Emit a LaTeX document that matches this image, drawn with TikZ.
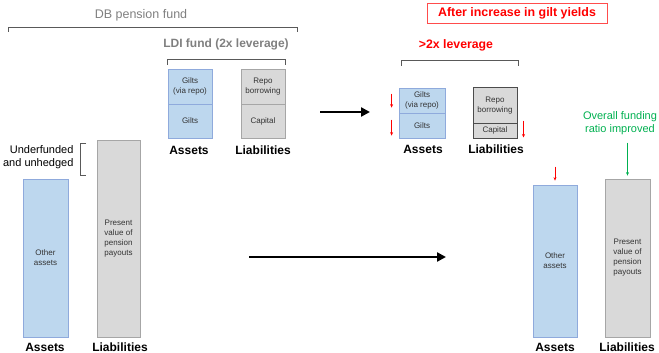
\documentclass[tikz,border=0pt]{standalone}
\usepackage{fontspec}
\setmainfont{Liberation Sans}
\usetikzlibrary{arrows.meta}

\definecolor{assetblue}{HTML}{BDD7EE}
\definecolor{assetedge}{HTML}{8FAADC}
\definecolor{liabgray}{HTML}{D9D9D9}
\definecolor{liabedge}{HTML}{A6A6A6}
\definecolor{titlegray}{HTML}{7F7F7F}
\definecolor{bracegray}{HTML}{595959}
\definecolor{upred}{HTML}{FF0000}
\definecolor{upgreen}{HTML}{00B050}

\tikzset{
	ablock/.style={draw=assetedge, fill=assetblue, line width=0.8pt, inner sep=0pt, align=center,
		font=\fontsize{8}{10}\selectfont, text=black!80},
	lblock/.style={ablock, draw=liabedge, fill=liabgray},
	colname/.style={font=\fontsize{12}{14}\selectfont\bfseries},
	brace/.style={draw=bracegray, line width=0.7pt},
	bigarrow/.style={line width=2.6pt, -{Triangle[length=9pt,width=9pt]}},
	tinyarrow/.style={upred, line width=0.6pt, -{Stealth[length=3.5pt,width=3pt]}}
}

\begin{document}
\begin{tikzpicture}[x=1pt,y=-1pt]

\useasboundingbox (0,0) rectangle (659,353);

\begin{scope}

\node[font=\fontsize{12.5}{14}\selectfont, text=titlegray] (dbname) at (141,15) {DB pension fund};
\draw[brace] (8,32)--(8,27)--(297,27)--(297,32);

\node[font=\fontsize{12}{14}\selectfont\bfseries, text=titlegray] (ldiname) at (226,44) {LDI fund (2x leverage)};
\draw[brace] (167,65)--(167,59)--(285,59)--(285,65);

\node[ablock, minimum width=44, minimum height=35] (gvr1) at (190,86.5) {Gilts\\(via repo)};
\node[ablock, minimum width=44, minimum height=34] (gil1) at (190,121) {Gilts};
\node[lblock, minimum width=44, minimum height=35] (rep1) at (263,86.5) {Repo\\borrowing};
\node[lblock, minimum width=44, minimum height=34] (cap1) at (263,121) {Capital};
\node[colname] (lass1) at (189,150) {Assets};
\node[colname] (lliab1) at (263,150) {Liabilities};

\node[font=\fontsize{11}{13}\selectfont, align=right, anchor=east] (gap1) at (77,157) {Underfunded\\and unhedged};
\draw[brace] (86,143)--(80,143)--(80,175)--(86,175);

\node[ablock, minimum width=45, minimum height=158] (oth1) at (45.5,258) {Other\\assets};
\node[lblock, minimum width=43, minimum height=197] (pv1) at (118.5,238.5) {Present\\value of\\pension\\payouts};
\node[colname] (ass1) at (45,347) {Assets};
\node[colname] (liab1) at (120,347) {Liabilities};

\end{scope}

\coordinate (mida) at (320,112);
\coordinate (midb) at (370,112);
\draw[bigarrow] (mida)--(midb);

\coordinate (lowa) at (249,257);
\coordinate (lowb) at (446,257);
\draw[bigarrow] (lowa)--(lowb);

\begin{scope}

\node[draw=upred!70, line width=0.8pt, text=upred, font=\fontsize{12.4}{14}\selectfont\bfseries,
	minimum width=180, minimum height=20, inner sep=0pt] (after) at (517,13) {After increase in gilt yields};

\node[font=\fontsize{12.3}{14}\selectfont\bfseries, text=upred] (lev2) at (456,45) {>2x leverage};
\draw[brace] (401,66)--(401,60)--(518,60)--(518,66);

\node[ablock, minimum width=46, minimum height=25] (gvr2) at (422,100.5) {Gilts\\(via repo)};
\node[ablock, minimum width=46, minimum height=25] (gil2) at (422,125.5) {Gilts};
\node[lblock, draw=black!70, line width=1pt, minimum width=44, minimum height=35] (rep2) at (495,105.5) {Repo\\borrowing};
\node[lblock, draw=black!70, line width=1pt, minimum width=44, minimum height=15] (cap2) at (495,130.5) {Capital};
\node[colname] (lass2) at (423,149) {Assets};
\node[colname] (lliab2) at (496,149) {Liabilities};

\coordinate (dn1a) at ([xshift=-7,yshift=-6]gvr2.north west);
\coordinate (dn1b) at ([xshift=-7,yshift=-20]gvr2.north west);
\coordinate (dn2a) at ([xshift=-7,yshift=-7]gil2.north west);
\coordinate (dn2b) at ([xshift=-7,yshift=-23]gil2.north west);
\coordinate (dn3a) at ([xshift=6,yshift=2]cap2.north east);
\coordinate (dn3b) at ([xshift=6,yshift=-15]cap2.north east);
\draw[tinyarrow] (dn1a)--(dn1b);
\draw[tinyarrow] (dn2a)--(dn2b);
\draw[tinyarrow] (dn3a)--(dn3b);

\node[ablock, minimum width=44, minimum height=152] (oth2) at (555,261) {Other\\assets};
\node[lblock, minimum width=45, minimum height=158] (pv2) at (627.5,258) {Present\\value of\\pension\\payouts};
\node[colname] (ass2) at (555,347) {Assets};
\node[colname] (liab2) at (627,347) {Liabilities};

\node[font=\fontsize{11}{13}\selectfont, text=upgreen, align=center] (ratio) at (620,123.5) {Overall funding\\ratio improved};
\draw[upgreen, line width=0.6pt, -{Stealth[length=3.5pt,width=3pt]}, shorten >=3pt]
	([yshift=-4]ratio.south -| pv2.north) -- (pv2.north);

\coordinate (dn4) at ([yshift=18]oth2.north);
\draw[tinyarrow, shorten >=4pt] (dn4)--(oth2.north);

\end{scope}

\end{tikzpicture}
\end{document}
